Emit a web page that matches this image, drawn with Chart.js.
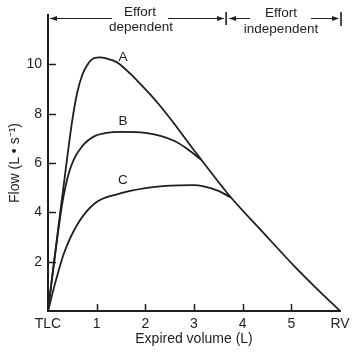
<!DOCTYPE html>
<html>
<head>
<meta charset="utf-8">
<script src="https://cdn.jsdelivr.net/npm/chart.js@4"></script>
<style>
    html, body { margin: 0; padding: 0; background: #fff; }
    #wrap { width: 355px; height: 352px; }
</style>
</head>
<body>
<div id="wrap"><canvas id="flowChart" width="355" height="352"></canvas></div>
<script>
// expired volume (L) / flow (L/s)
const volumeA = [0, 0.1, 0.2, 0.3, 0.4, 0.5, 0.6, 0.7, 0.8, 0.9, 1.05, 1.2, 1.42, 1.69, 1.9, 2.1, 2.31, 2.59, 2.93, 3.28, 3.76, 4.38, 5.07, 5.5, 6.0];
const flowA = [0, 1.6, 3.2, 4.75, 6.3, 7.75, 8.85, 9.55, 9.95, 10.2, 10.28, 10.24, 10.08, 9.62, 9.2, 8.78, 8.3, 7.6, 6.7, 5.8, 4.6, 3.27, 1.8, 0.95, 0];

const volumeB = [0, 0.1, 0.2, 0.3, 0.36, 0.43, 0.5, 0.58, 0.68, 0.8, 0.97, 1.2, 1.5, 2.0, 2.31, 2.59, 2.87, 3.15];
const flowB = [0, 1.6, 3.1, 4.45, 5.05, 5.6, 6.0, 6.33, 6.62, 6.88, 7.1, 7.22, 7.26, 7.22, 7.1, 6.9, 6.56, 6.13];

const volumeC = [0, 0.15, 0.33, 0.6, 0.97, 1.45, 2.0, 2.42, 3.0, 3.2, 3.49, 3.76];
const flowC = [0, 1.15, 2.35, 3.5, 4.38, 4.75, 4.98, 5.07, 5.1, 5.05, 4.88, 4.6];

const curveNames = ['A', 'B', 'C'];
const xTicks = [0, 1, 2, 3, 4, 5, 6];
const xTickLabels = ['TLC', '1', '2', '3', '4', '5', 'RV'];
const yTicks = [2, 4, 6, 8, 10];
const effortLimit = 3.66;   // boundary between the two regions

const INK = '#1e1e1e';
const FONT = 'Liberation Sans, Arial, sans-serif';

function toPoints(xs, ys) {
    return xs.map((x, i) => ({ x: x, y: ys[i] }));
}

function curve(label, xs, ys) {
    return {
        label: label,
        data: toPoints(xs, ys),
        borderColor: INK,
        borderWidth: 1.8,
        pointRadius: 0,
        fill: false,
        cubicInterpolationMode: 'monotone'
    };
}

function arrowHead(ctx, tipX, y, dir) {
    ctx.beginPath();
    ctx.moveTo(tipX, y);
    ctx.lineTo(tipX - dir * 7, y - 2.5);
    ctx.lineTo(tipX - dir * 7, y + 2.5);
    ctx.closePath();
    ctx.fill();
}

// inward tick marks, curve letters and the effort header
const decorations = {
    id: 'decorations',
    afterDraw(chart) {
        const ctx = chart.ctx;
        const xs = chart.scales.x;
        const ys = chart.scales.y;
        const area = chart.chartArea;
        ctx.save();
        ctx.strokeStyle = INK;
        ctx.fillStyle = INK;
        ctx.lineWidth = 1.5;

        ctx.beginPath();
        yTicks.forEach(v => {
            const py = Math.round(ys.getPixelForValue(v)) + 0.5;
            ctx.moveTo(area.left, py);
            ctx.lineTo(area.left + 8, py);
        });
        xTicks.slice(1, -1).forEach(v => {
            const px = Math.round(xs.getPixelForValue(v)) + 0.5;
            ctx.moveTo(px, area.bottom);
            ctx.lineTo(px, area.bottom - 7);
        });
        ctx.stroke();

        // letters
        ctx.font = '13.5px ' + FONT;
        ctx.textAlign = 'center';
        ctx.textBaseline = 'middle';
        const letterY = [10.3, 7.7, 5.3];
        curveNames.forEach((n, i) => {
            ctx.fillText(n, xs.getPixelForValue(1.54), ys.getPixelForValue(letterY[i]));
        });

        // header
        const x0 = xs.getPixelForValue(0);
        const xb = xs.getPixelForValue(effortLimit);
        const x6 = xs.getPixelForValue(6);
        const ay = 18.5;
        ctx.lineWidth = 1.2;
        ctx.beginPath();
        ctx.moveTo(x0 + 2, ay); ctx.lineTo(112, ay);
        ctx.moveTo(168, ay); ctx.lineTo(xb - 2, ay);
        ctx.moveTo(xb + 3, ay); ctx.lineTo(250, ay);
        ctx.moveTo(311, ay); ctx.lineTo(x6 - 2, ay);
        ctx.stroke();
        ctx.lineWidth = 1.6;
        ctx.beginPath();
        ctx.moveTo(xb, 12); ctx.lineTo(xb, 25);
        ctx.moveTo(x6 + 1, 12); ctx.lineTo(x6 + 1, 26);
        ctx.stroke();
        arrowHead(ctx, x0 + 2, ay, -1);
        arrowHead(ctx, xb - 2, ay, 1);
        arrowHead(ctx, xb + 3, ay, -1);
        arrowHead(ctx, x6 - 1, ay, 1);

        ctx.fillText('Effort', 140, 12.5);
        ctx.fillText('dependent', 141, 27);
        ctx.fillText('Effort', 281, 13.5);
        ctx.fillText('independent', 281, 29);
        ctx.restore();
    }
};

new Chart(document.getElementById('flowChart'), {
    type: 'line',
    data: {
        datasets: [
            curve('A', volumeA, flowA),
            curve('B', volumeB, flowB),
            curve('C', volumeC, flowC)
        ]
    },
    options: {
        responsive: false,
        animation: false,
        layout: { padding: { top: 15, right: 15, left: 0, bottom: 0 } },
        plugins: { legend: { display: false }, tooltip: { enabled: false } },
        scales: {
            x: {
                type: 'linear',
                min: 0,
                max: 6,
                afterFit: s => { s.height = 41; },
                afterBuildTicks: s => { s.ticks = xTicks.map(v => ({ value: v })); },
                grid: { drawOnChartArea: false, drawTicks: false },
                border: { color: INK, width: 2 },
                ticks: {
                    padding: 5,
                    color: INK,
                    font: { family: FONT, size: 14 },
                    maxRotation: 0,
                    callback: v => xTickLabels[xTicks.indexOf(v)]
                },
                title: {
                    display: true,
                    text: 'Expired volume (L)',
                    color: INK,
                    font: { family: FONT, size: 14 },
                    padding: { top: 0, bottom: 4 }
                }
            },
            y: {
                min: 0,
                max: 12,
                afterFit: s => { s.width = 48; },
                afterBuildTicks: s => { s.ticks = yTicks.map(v => ({ value: v })); },
                grid: { drawOnChartArea: false, drawTicks: false },
                border: { color: INK, width: 2 },
                ticks: {
                    padding: 6,
                    color: INK,
                    font: { family: FONT, size: 14 }
                },
                title: {
                    display: true,
                    text: 'Flow (L • s⁻¹)',
                    color: INK,
                    font: { family: FONT, size: 14 },
                    padding: { top: 7, bottom: 0 }
                }
            }
        }
    },
    plugins: [decorations]
});
</script>
</body>
</html>
